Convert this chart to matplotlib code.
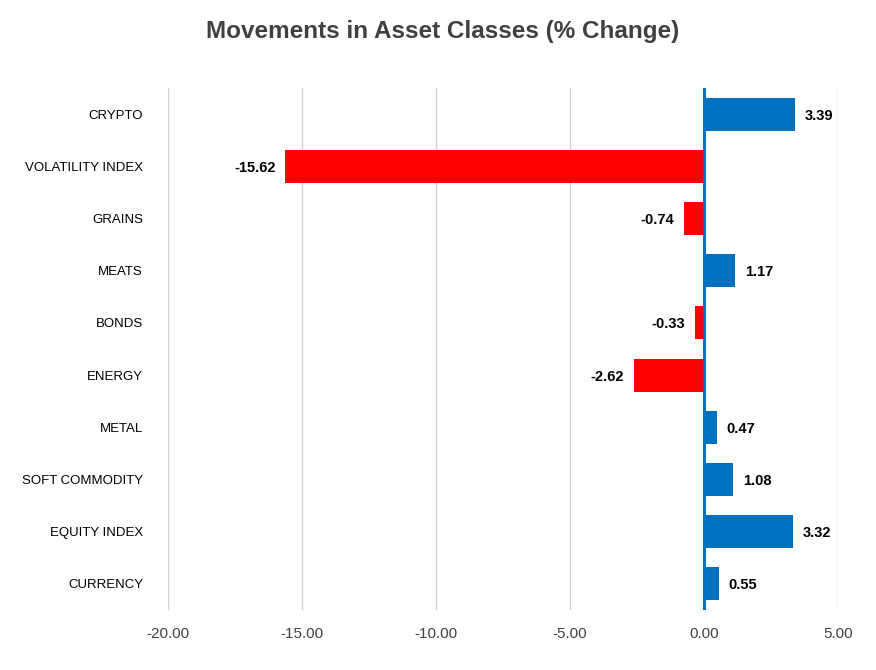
import matplotlib.pyplot as plt
import numpy as np

categories = ['CRYPTO', 'VOLATILITY INDEX', 'GRAINS', 'MEATS', 'BONDS',
              'ENERGY', 'METAL', 'SOFT COMMODITY', 'EQUITY INDEX', 'CURRENCY']
changes = [3.39, -15.62, -0.74, 1.17, -0.33, -2.62, 0.47, 1.08, 3.32, 0.55]
xticks = [-20, -15, -10, -5, 0, 5]

plt.rcParams['font.family'] = ['Liberation Sans', 'DejaVu Sans']

fig = plt.figure(figsize=(8.76, 6.7), dpi=100)
ax = fig.add_axes([0.1918, 0.0896, 0.7648, 0.7791])

y = np.arange(len(categories))
colors = ['#0070C0' if v >= 0 else '#FF0000' for v in changes]
ax.barh(y, changes, height=0.63, color=colors, zorder=3)

for yi, v in zip(y, changes):
    if v >= 0:
        ax.text(v + 0.37, yi, f'{v:.2f}', va='center_baseline', ha='left',
                fontsize=10.5, fontweight='bold', color='black', zorder=4)
    else:
        ax.text(v - 0.37, yi, f'{v:.2f}', va='center_baseline', ha='right',
                fontsize=10.5, fontweight='bold', color='black', zorder=4)

ax.set_xlim(-20, 5)
ax.set_ylim(len(categories) - 0.5, -0.5)
ax.set_xticks(xticks)
ax.set_xticklabels([f'{t:.2f}' for t in xticks], fontsize=11, color='#404040')
ax.set_yticks(y)
ax.set_yticklabels(categories, fontsize=9.5, color='black')
ax.tick_params(axis='both', length=0)
ax.tick_params(axis='x', pad=12)
ax.tick_params(axis='y', pad=18)

ax.grid(axis='x', color='#D0D0D0', linewidth=1, zorder=0)
for s in ax.spines.values():
    s.set_visible(False)
ax.axvline(0, color='#0070C0', linewidth=2.2, zorder=5)

fig.suptitle('Movements in Asset Classes (% Change)', x=0.505, y=0.97,
             fontsize=17.5, fontweight='bold', color='#404040')

fig.savefig('out.png', dpi=100, facecolor='white')
